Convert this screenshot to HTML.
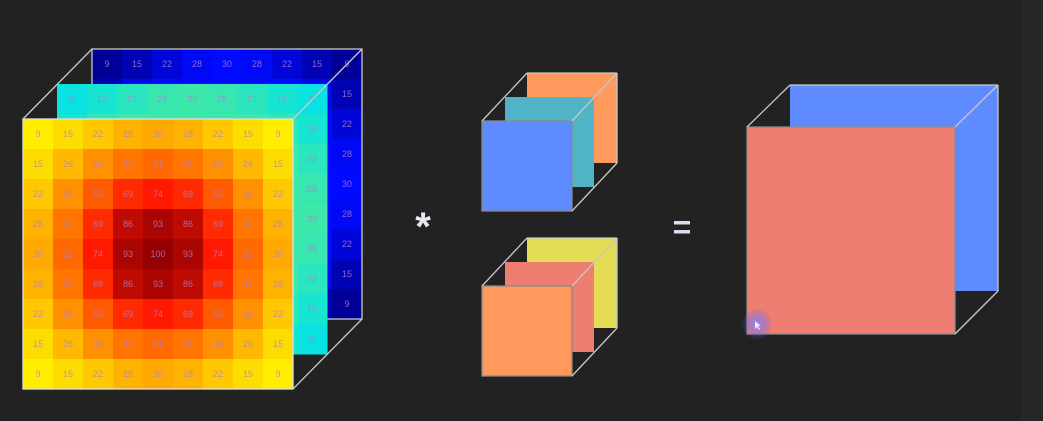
<!DOCTYPE html>
<html><head><meta charset="utf-8"><style>
html,body{margin:0;padding:0;background:#222222;}
svg{display:block;}
</style></head><body>
<svg id="chart" width="1043" height="421" viewBox="0 0 1043 421" xmlns="http://www.w3.org/2000/svg">
<rect x="0" y="0" width="1043" height="421" fill="#222222"/>
<rect x="1021" y="0" width="22" height="421" fill="#272727"/>
<g id="heat"></g>
<g id="shapes"></g>
</svg>
<script>
const rowsTop = [
  [9,15,22,28,30,28,22,15,9],
  [15,26,38,47,51,47,38,26,15],
  [22,38,55,69,74,69,55,38,22],
  [28,47,69,86,93,86,69,47,28],
  [30,51,74,93,100,93,74,51,30]
];
const rowsBottom = [
  [28,47,69,86,93,86,69,47,28],
  [22,38,55,69,74,69,55,38,22],
  [15,26,38,47,51,47,38,26,15],
  [9,15,22,28,30,28,22,15,9]
];
const matrix = rowsTop.concat(rowsBottom);

const NS = "http://www.w3.org/2000/svg";
function mk(tag, attrs, parent){ const e=document.createElementNS(NS,tag); for(const k in attrs) e.setAttribute(k,attrs[k]); parent.appendChild(e); return e; }
function lerp(a,b,t){return a+(b-a)*t;}
function ramp(stops, v){
  for(let i=0;i<stops.length-1;i++){
    const [v0,c0]=stops[i],[v1,c1]=stops[i+1];
    if(v<=v1){const t=Math.max(0,(v-v0)/(v1-v0));return `rgb(${Math.round(lerp(c0[0],c1[0],t))},${Math.round(lerp(c0[1],c1[1],t))},${Math.round(lerp(c0[2],c1[2],t))})`;}
  }
  const c=stops[stops.length-1][1];return `rgb(${c[0]},${c[1]},${c[2]})`;
}
const warm=[[9,[255,238,0]],[22,[255,200,0]],[30,[255,170,0]],[51,[255,105,0]],[74,[255,25,0]],[86,[190,10,0]],[100,[150,0,0]]];
const blue=[[9,[0,0,150]],[30,[0,10,255]]];
const cyan=[[9,[10,226,226]],[30,[60,232,170]]];

const heat=document.getElementById('heat');
const LC='#c8c8c8';
const cell=30;
function grid(x0,y0,stops,name){
  const g=mk('g',{},heat);
  
  
  matrix.forEach((row,r)=>row.forEach((v,c)=>{
    const rc=mk('rect',{x:x0+c*cell,y:y0+r*cell,width:cell+0.5,height:cell+0.5,fill:ramp(stops,v)},g);
    
    
    const t=mk('text',{x:x0+c*cell+cell/2,y:y0+r*cell+cell/2+3,'text-anchor':'middle','font-size':'9','font-family':'Liberation Sans, sans-serif',fill:'#b080d0','fill-opacity':'0.8'},g);
    
    
    t.textContent=v;
  }));
}
function hline(x1,y1,x2,y2,p){const l=mk('line',{x1,y1,x2,y2,stroke:LC,'stroke-width':1.3},p);
  
  }

grid(92,49,blue,'back-blue-grid');
const bo=mk('rect',{x:92,y:49,width:270,height:270,fill:'none',stroke:LC,'stroke-width':1.3},heat);


grid(57,84,cyan,'middle-cyan-grid');
grid(23,119,warm,'front-heat-grid');
const fo=mk('rect',{x:23,y:119,width:270,height:270,fill:'none',stroke:'#e0e0e0','stroke-width':1.3},heat);


hline(23,119,92,49,heat);hline(293,119,362,49,heat);hline(293,389,362,319,heat);

const sh=document.getElementById('shapes');
function line(x1,y1,x2,y2){const l=mk('line',{x1,y1,x2,y2,stroke:LC,'stroke-width':1.3},sh);
  
  }
function box(x,y,w,h,fill,name,stroke){const r=mk('rect',{x,y,width:w,height:h,fill:fill,stroke:stroke||'none','stroke-width':1.3},sh);
  
  }

// small cube 1
box(527,73,90,90,'#ff9a5c','kernel1-back');
box(505,97,89,90,'#50b3c6','kernel1-middle');
box(482,121,90,90,'#5e8bff','kernel1-front','#8a8a8a');
line(482,121,527,73);line(572,121,617,73);line(572,211,617,163);
line(527,73,617,73);line(617,73,617,163);

// small cube 2
box(527,238,90,90,'#e4dc55','kernel2-back');
box(505,262,89,90,'#ee7e72','kernel2-middle');
box(482,286,90,90,'#ff9a5c','kernel2-front','#8a8a8a');
line(482,286,527,238);line(572,286,617,238);line(572,376,617,328);
line(527,238,617,238);line(617,238,617,328);

// big result cube
box(790,85,208,206,'#5e8bff','result-back');
box(747,127,208,207,'#ef7e72','result-front','#8a8a8a');
line(747,127,790,85);line(955,127,998,85);line(955,334,998,291);
line(790,85,998,85);line(998,85,998,291);

// operators
const ast=mk('text',{x:423,y:240,'text-anchor':'middle','font-size':'40','font-weight':'bold','font-family':'Liberation Sans, sans-serif',fill:'#e8e8f0'},sh);


ast.textContent='*';
const eq=mk('text',{x:682,y:238,'text-anchor':'middle','font-size':'32','font-weight':'bold','font-family':'Liberation Sans, sans-serif',fill:'#dcdcf0'},sh);


eq.textContent='=';

// cursor glow
const defs=mk('defs',{},sh);
const rg=mk('radialGradient',{id:'glow'},defs);
mk('stop',{offset:'0','stop-color':'#8a8aff','stop-opacity':'0.9'},rg);
mk('stop',{offset:'1','stop-color':'#4a5aff','stop-opacity':'0'},rg);
const gl=mk('circle',{cx:757,cy:324,r:16,fill:'url(#glow)'},sh);


const cur=mk('path',{d:'M755 321 l0 8 l2 -2 l2 3 l1 -1 l-2 -3 l3 0 z',fill:'#ffffff','fill-opacity':'0.8'},sh);


</script>
</body></html>
